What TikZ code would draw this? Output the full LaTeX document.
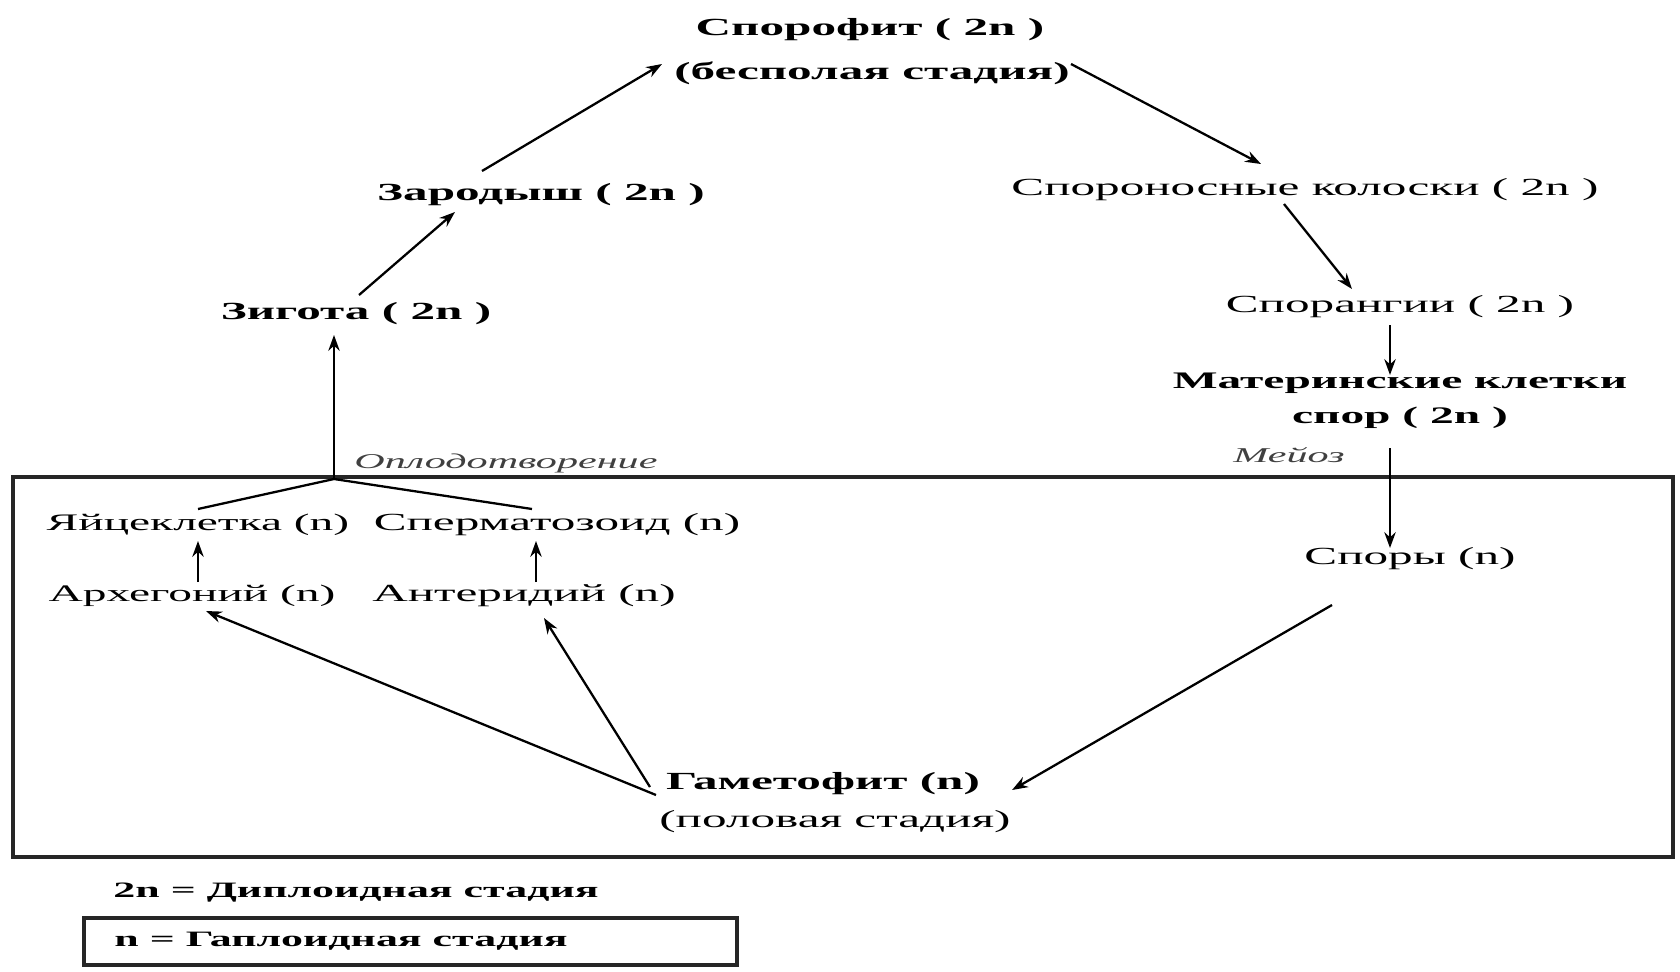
\documentclass[tikz,border=0pt]{standalone}
\usepackage{fontspec}
\setmainfont{Liberation Serif}[FakeStretch=2.0]
\usepackage{tikz}
\usetikzlibrary{calc,arrows.meta}

\begin{document}
\begin{tikzpicture}[x=0.02cm,y=-0.02cm,
    lbl/.style={inner sep=0pt,font=\fontsize{14}{16}\selectfont},
    blbl/.style={lbl,font=\fontsize{14}{16}\selectfont\bfseries},
    ilbl/.style={inner sep=0pt,font=\fontsize{12}{14}\selectfont\itshape,black!75},
    leg/.style={inner sep=0pt,font=\fontsize{12.5}{14}\selectfont\bfseries},
    arr/.style={-{Stealth[length=9pt,width=6.5pt]},line width=1.3pt},
    link/.style={line width=1.3pt}]
  \useasboundingbox (0,0) rectangle (1680,971);
  % diploid part (top)
  \node[blbl] (spo) at (870,30) {Спорофит ( 2n )};
  \node[blbl] (spoa) at (872,73) {(бесполая стадия)};
  \node[blbl] (emb) at (541,195) {Зародыш ( 2n )};
  \node[blbl] (zyg) at (356,314) {Зигота ( 2n )};
  \node[lbl] (kol) at (1305,190) {Спороносные колоски ( 2n )};
  \node[lbl] (sprg) at (1400,307) {Спорангии ( 2n )};
  \node[blbl,align=center,font=\fontsize{13.5}{16}\selectfont\bfseries] (mat) at (1400,401) {Материнские клетки\\[4pt]спор ( 2n )};
  \node[ilbl] (mei) at (1289,455) {Мейоз};
  \node[ilbl,anchor=west] (oplod) at (354,463) {Оплодотворение};
  % haploid part (in the box)
  \draw[line width=2pt,black!85] (13,477) rectangle (1673,857);
  \node[lbl,font=\fontsize{13.5}{16}\selectfont] (egg) at (198,525) {Яйцеклетка (n)};
  \node[lbl] (sperm) at (557,525) {Сперматозоид (n)};
  \node[lbl,font=\fontsize{13.5}{16}\selectfont] (arch) at (192,596) {Архегоний (n)};
  \node[lbl] (anth) at (524,596) {Антеридий (n)};
  \node[lbl] (spory) at (1410,559) {Споры (n)};
  \node[blbl] (gam) at (823,784) {Гаметофит (n)};
  \node[lbl] (gama) at (835,822) {(половая стадия)};
  \coordinate (fert) at (334,479);
  % legend
  \node[leg] (dipl) at (356,893) {2n = Диплоидная стадия};
  \draw[line width=2pt,black!85] (84,918) rectangle (737,965);
  \node[leg] (hapl) at (341,941) {n = Гаплоидная стадия};

  \draw[arr] ($(zyg)+(3,-19)$) -- ($(emb)+(-86,17)$);
  \draw[arr] ($(emb)+(-59,-24)$) -- ($(spoa)+(-210,-9)$);
  \draw[arr] ($(spoa)+(199,-9)$) -- ($(kol)+(-44,-26)$);
  \draw[arr] ($(kol)+(-21,14)$) -- ($(sprg)+(-48,-18)$);
  \draw[arr] ($(sprg)+(-10,18)$) -- ($(mat)+(-10,-26)$);
  \draw[arr] ($(mat)+(-10,47)$) -- ($(spory)+(-20,-11)$);
  \draw[arr] ($(spory)+(-78,46)$) -- ($(gam)+(189,6)$);
  \draw[arr] ($(gam)+(-167,11)$) -- ($(arch)+(14,15)$);
  \draw[arr] ($(gam)+(-173,3)$) -- ($(anth)+(20,22)$);
  \draw[arr] ($(arch)+(6,-14)$) -- ($(egg)+(0,16)$);
  \draw[arr] ($(anth)+(12,-14)$) -- ($(sperm)+(-21,16)$);
  \draw[link] ($(egg)+(0,-16)$) -- (fert) -- ($(sperm)+(-25,-16)$);
  \draw[arr] (fert) -- ($(zyg)+(-22,21)$);
\end{tikzpicture}
\end{document}
